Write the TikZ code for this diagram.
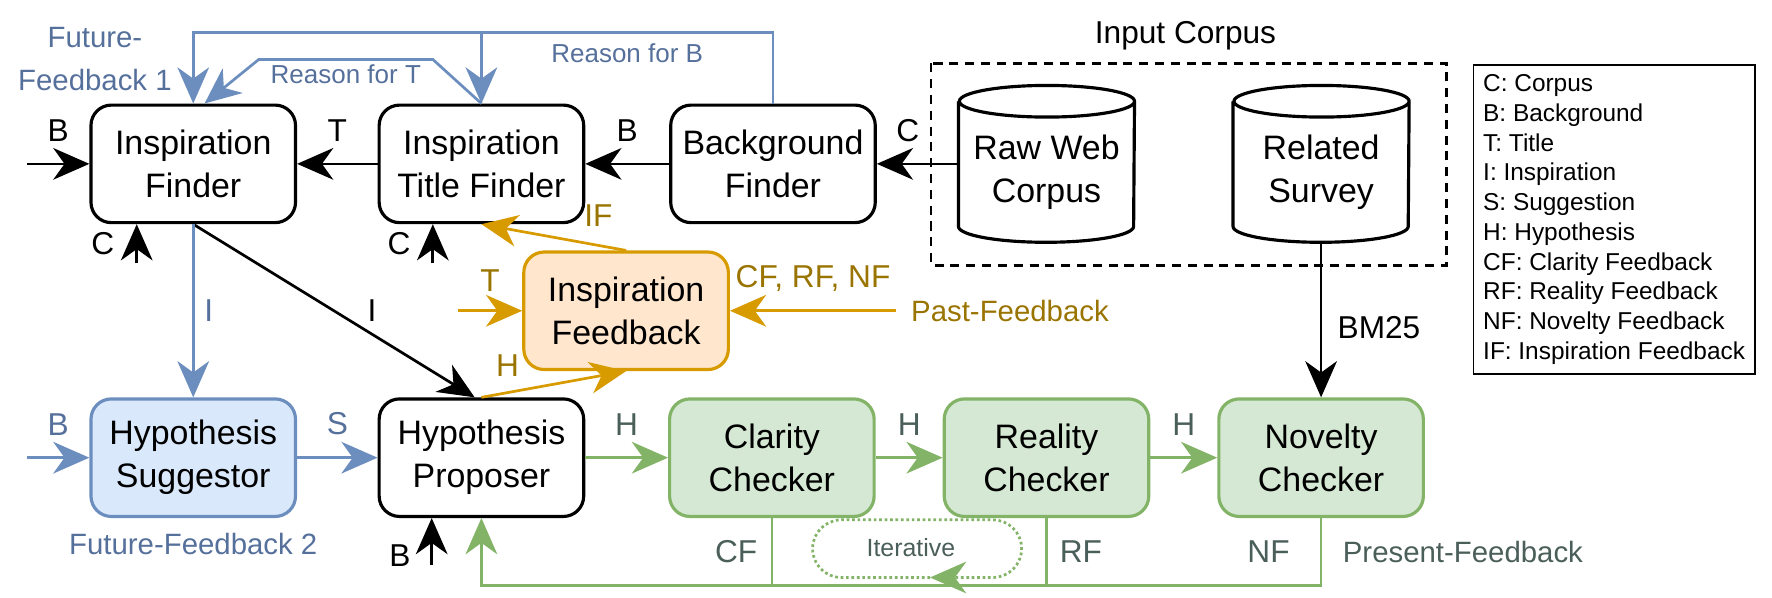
\documentclass[tikz,border=0pt]{standalone}
\usepackage{fontspec}
\setmainfont{Liberation Sans}
\usetikzlibrary{arrows.meta}

\definecolor{fbline}{HTML}{6C8EBF}
\definecolor{fbfill}{HTML}{DAE8FC}
\definecolor{fbtext}{HTML}{56709C}
\definecolor{ifline}{HTML}{D79B00}
\definecolor{iffill}{HTML}{FFE6CC}
\definecolor{iftext}{HTML}{9A7400}
\definecolor{pfline}{HTML}{82B366}
\definecolor{pffill}{HTML}{D5E8D4}
\definecolor{pftext}{HTML}{4B5F5A}

\newcommand\boxfont{\fontsize{15}{19}\selectfont}
\newcommand\lblfont{\fontsize{14}{17}\selectfont}
\newcommand\notefont{\fontsize{13}{19}\selectfont}
\newcommand\smallfont{\fontsize{11.5}{14}\selectfont}
\newcommand\keyfont{\fontsize{10.8}{13.15}\selectfont}

\tikzset{
  proc/.style={draw, line width=1.4pt, rounded corners=9pt, minimum width=90.5pt, minimum height=52pt, align=center, font=\boxfont, inner sep=2pt},
  procblue/.style={proc, draw=fbline, fill=fbfill},
  procorange/.style={proc, draw=ifline, fill=iffill},
  procgreen/.style={proc, draw=pfline, fill=pffill},
  dbstore/.style={minimum width=77.5pt, minimum height=62pt, align=center, font=\boxfont, inner sep=0pt},
  arr/.style={line width=1.2pt, -{Stealth[length=16pt,width=14pt,inset=5pt]}},
  barr/.style={arr, draw=fbline},
  oarr/.style={arr, draw=ifline},
  garr/.style={arr, draw=pfline},
  bline/.style={line width=1.2pt, draw=fbline},
  gline/.style={line width=1.2pt, draw=pfline},
  gdot/.style={line width=1.2pt, draw=pfline, dash pattern=on 1.2pt off 1.2pt, rounded corners=12.75pt, -{Stealth[length=16pt,width=14pt,inset=5pt]}},
  lbl/.style={font=\lblfont},
  blbl/.style={font=\lblfont, text=fbtext},
  olbl/.style={font=\lblfont, text=iftext},
  glbl/.style={font=\lblfont, text=pftext},
  bsmall/.style={font=\smallfont, text=fbtext}
}

\begin{document}
\begin{tikzpicture}[x=0.5pt, y=-0.5pt]
\useasboundingbox (0,0) rectangle (1568,529);

% first row
\node[proc] (ifind) at (171,145) {Inspiration\\Finder};
\node[proc] (tfind) at (426,145) {Inspiration\\Title Finder};
\node[proc] (bfind) at (684,145) {Background\\Finder};
\node[dbstore] (rweb) at (926,152) {Raw Web\\Corpus};
\node[dbstore] (rsurv) at (1169,152) {Related\\Survey};
\foreach \n in {rweb,rsurv}
  \draw[line width=1.4pt] (\n.north west) -- ([yshift=7pt]\n.south west)
    arc[start angle=180, end angle=360, x radius=38.75pt, y radius=7pt]
    -- (\n.north east) arc[start angle=0, end angle=360, x radius=38.75pt, y radius=7pt];
\draw[line width=1.1pt, dash pattern=on 4pt off 3pt] (824,56) rectangle (1280,235);
\node[font=\fontsize{14}{17}\selectfont] (incorp) at (1049,32) {Input Corpus};

% second row
\node[procblue] (hsug) at (171,405) {Hypothesis\\Suggestor};
\node[proc] (hprop) at (426,405) {Hypothesis\\Proposer};
\node[procgreen] (clar) at (683,405) {Clarity\\Checker};
\node[procgreen] (real) at (926,405) {Reality\\Checker};
\node[procgreen] (novel) at (1169,405) {Novelty\\Checker};
\node[procorange] (ifb) at (554,275) {Inspiration\\Feedback};

\node[font=\notefont, text=fbtext, align=center] (ffone) at (84,52) {Future-\\Feedback 1};
\node[font=\fontsize{11}{13}\selectfont, text=pftext] (iter) at (806,485) {Iterative};

\node[draw, line width=0.8pt, anchor=north west, minimum width=124.5pt, minimum height=136.5pt,
  inner xsep=3pt, align=left, font=\keyfont] (key) at (1303,57)
  {C: Corpus\\B: Background\\T: Title\\I: Inspiration\\S: Suggestion\\H: Hypothesis\\
   CF: Clarity Feedback\\RF: Reality Feedback\\NF: Novelty Feedback\\IF: Inspiration Feedback};

\coordinate (inB) at (24,145);
\coordinate (inC1) at (121,233);
\coordinate (inC2) at (383,233);
\coordinate (inB2) at (24,405);
\coordinate (inB3) at (382,500);
\coordinate (inT) at (405,275);
\coordinate (inPF) at (793,275);
\coordinate (ftop) at (684,29);

% black flow
\draw[arr] (inB) -- (ifind) node[midway, above=6pt, lbl] {B};
\draw[arr] (tfind) -- (ifind) node[midway, above=6pt, lbl] {T};
\draw[arr] (bfind) -- (tfind) node[midway, above=6pt, lbl] {B};
\draw[arr] (rweb.west |- bfind.east) -- (bfind) node[pos=0.62, above=6pt, lbl] {C};
\draw[arr] (inC1) -- (inC1 |- ifind.south) node[midway, left=6pt, lbl] {C};
\draw[arr] (inC2) -- (inC2 |- tfind.south) node[midway, left=6pt, lbl] {C};
\draw[arr] (ifind.south) -- ([xshift=-3pt]hprop.north) node[midway, right=11pt, lbl] {I};
\draw[arr] (inB3) -- (inB3 |- hprop.south) node[pos=0.2, left=5.5pt, lbl] {B};
\draw[arr] (rsurv.south) -- (novel.north) node[pos=0.55, right=3.4pt, lbl] {BM25};

% future feedback
\draw[bline] (bfind.north) -- (ftop) -- (ftop -| tfind.north) node[midway, below=1pt, bsmall] {Reason for B};
\draw[barr] (ftop -| tfind.north) -| (ifind.north);
\draw[barr] (ftop -| tfind.north) -- (tfind.north);
\draw[barr] (tfind.north) -- ++(-43,-39) -- ++(-154,0) node[midway, below=-1.5pt, bsmall] {Reason for T}
  -- ([xshift=5pt]ifind.north);
\draw[barr] (ifind.south) -- (hsug.north) node[midway, right=1pt, blbl] {I};
\draw[barr] (inB2) -- (hsug) node[midway, above=6pt, blbl] {B};
\draw[barr] (hsug) -- (hprop) node[midway, above=6pt, blbl] {S};
\node[below=3pt, font=\notefont, text=fbtext] (fftwo) at (hsug.south) {Future-Feedback 2};

% past feedback
\draw[oarr] (ifb.north) -- (tfind.south) node[pos=0.3, above=3pt, xshift=7pt, olbl] {IF};
\draw[oarr] (inT) -- (ifb) node[midway, above=4.5pt, olbl] {T};
\draw[oarr] (inPF) node[right=2.7pt, font=\notefont, text=iftext] {Past-Feedback}
  -- (ifb) node[midway, above=4.5pt, olbl] {CF, RF, NF};
\draw[oarr] (hprop.north) -- (ifb.south) node[pos=0.18, above=3pt, olbl] {H};

% present feedback
\draw[garr] (hprop) -- (clar) node[midway, above=6pt, glbl] {H};
\draw[garr] (clar) -- (real) node[midway, above=6pt, glbl] {H};
\draw[garr] (real) -- (novel) node[midway, above=6pt, glbl] {H};
\draw[garr] (novel.south) -- ++(0,60) coordinate (fbend)
  node[midway, left=10pt, glbl] {NF}
  node[midway, right=5.7pt, font=\notefont, text=pftext] {Present-Feedback}
  -| (hprop.south);
\draw[gline] (clar.south) -- (clar.south |- fbend) node[midway, left=2.5pt, glbl] {CF};
\draw[gline] (real.south) -- (real.south |- fbend) node[midway, right=2pt, glbl] {RF};
\draw[gdot] (823,511) -| (719,460) -| (904,511) -- (823,511);
\end{tikzpicture}
\end{document}
